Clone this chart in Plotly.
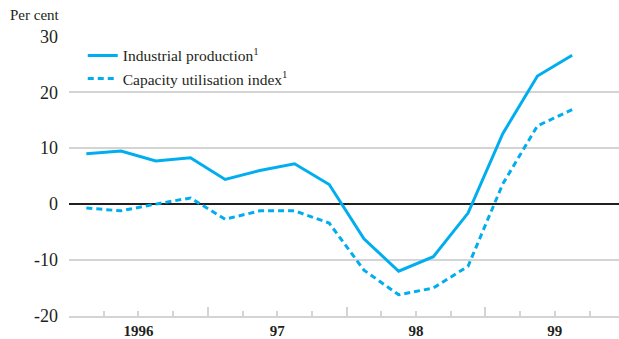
import plotly.graph_objects as go

# quarterly, 1996 Q1 .. 1999 Q3 (x = quarters since start of 1996, mid-quarter)
quarters = [i + 0.5 for i in range(15)]
industrial = [9.0, 9.5, 7.7, 8.3, 4.4, 6.0, 7.2, 3.5, -6.2, -12.0, -9.4, -1.6, 12.6, 22.9, 26.6]
capacity = [-0.7, -1.2, 0.0, 1.1, -2.7, -1.2, -1.2, -3.4, -11.8, -16.2, -15.0, -11.1, 3.6, 14.0, 16.9]
year_labels = ['1996', '97', '98', '99']
year_mid = [2, 6, 10, 14]
year_breaks = [4, 8, 12]
y_ticks = [-20, -10, 0, 10, 20, 30]
y_text = ['-20', '-10', '0', '10', '20', '30']

blue = '#00aeef'
grey = '#d4d4d4'
serif = 'Liberation Serif, Times New Roman, serif'

fig = go.Figure()
fig.add_trace(go.Scatter(x=quarters, y=industrial, mode='lines',
                         name='Industrial production<sup>1</sup>',
                         line=dict(color=blue, width=3)))
fig.add_trace(go.Scatter(x=quarters, y=capacity, mode='lines', xaxis='x2',
                         name='Capacity utilisation index<sup>1</sup>',
                         line=dict(color=blue, width=3, dash='6px,4px')))

xr = [0, 15.85]
fig.update_layout(
    width=619, height=339,
    margin=dict(l=69, r=0, t=36, b=23, autoexpand=False),
    paper_bgcolor='white', plot_bgcolor='white',
    font=dict(family=serif, color='#231f20'),
    showlegend=True,
    legend=dict(x=0.025, y=0.99, xanchor='left', yanchor='top',
                bgcolor='rgba(0,0,0,0)', font=dict(size=15.5, family=serif),
                tracegroupgap=0, itemwidth=30),
    xaxis=dict(range=xr, tickvals=year_mid, ticktext=year_labels,
               ticks='inside', ticklen=5, tickwidth=2, tickcolor=grey,
               tickfont=dict(size=15, family=serif, weight='bold'),
               ticklabelstandoff=0,
               minor=dict(ticks='inside', dtick=1, tick0=0, ticklen=5,
                          tickwidth=2, tickcolor=grey, showgrid=False),
               showgrid=False, zeroline=False, showline=True,
               linecolor=grey, linewidth=2, fixedrange=True, automargin=False),
    xaxis2=dict(range=xr, overlaying='x', anchor='y', side='bottom',
                tickvals=year_breaks, showticklabels=False,
                ticks='inside', ticklen=9, tickwidth=2, tickcolor=grey,
                showgrid=False, zeroline=False, showline=False, automargin=False),
    yaxis=dict(range=[-20, 30.05], tickvals=y_ticks, ticktext=y_text,
               showgrid=True, gridcolor=grey, gridwidth=2,
               zeroline=True, zerolinecolor='#231f20', zerolinewidth=2,
               showline=False, ticks='', ticklabelstandoff=10, automargin=False,
               tickfont=dict(size=18, family=serif)),
)
fig.add_annotation(text='Per cent', xref='paper', yref='paper',
                   x=-61 / 550, y=1 + 21 / 280, xanchor='left', yanchor='middle',
                   showarrow=False, font=dict(size=15, family=serif))

fig.write_html('out.html', config={'displayModeBar': False},
               post_script="document.body.style.margin='0';")
